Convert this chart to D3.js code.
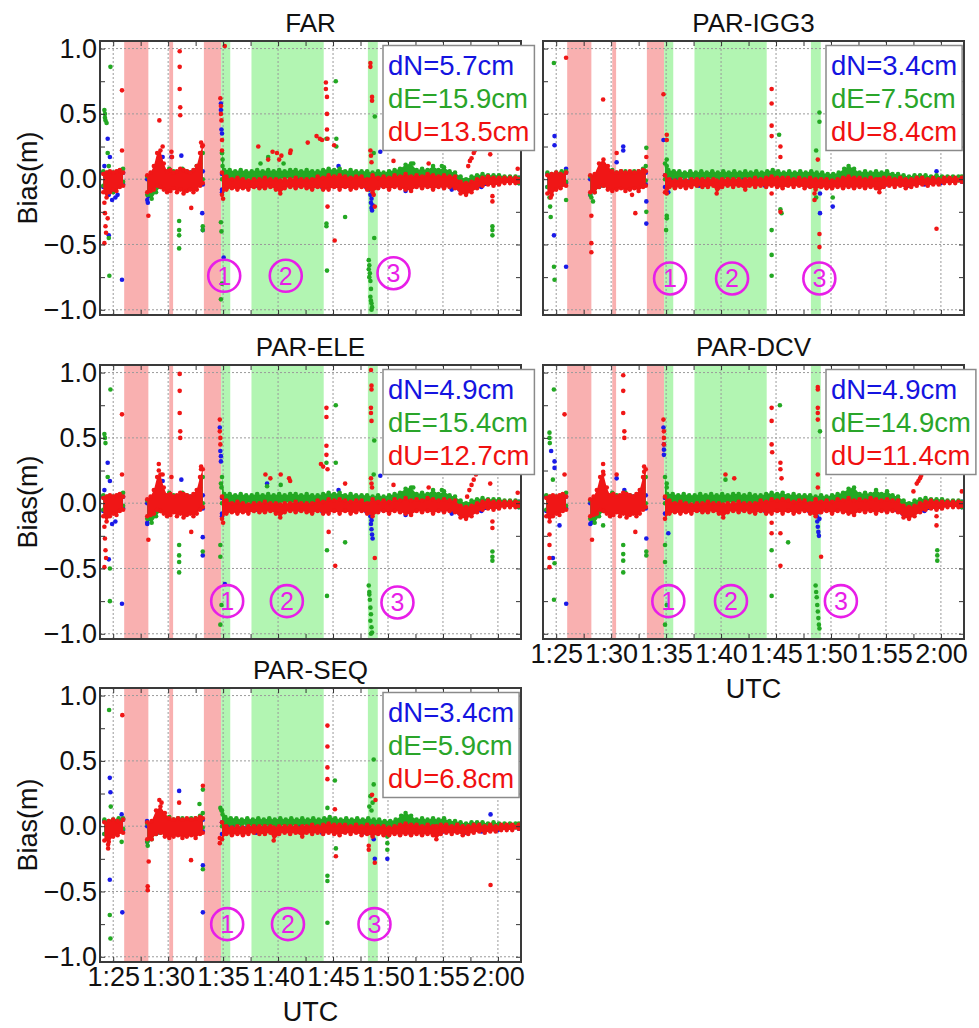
<!DOCTYPE html>
<html><head><meta charset="utf-8">
<script src="https://cdn.jsdelivr.net/npm/d3@7"></script>
<style>body{margin:0;background:#fff} text{font-family:"Liberation Sans",Arial,sans-serif}</style>
</head><body><svg id="c" width="979" height="1028"></svg>
<script>
// ---------------- DATA ----------------
// time in minutes after 1:00 UTC (25 = 1:25)
const panelNames = ["FAR","PAR-IGG3","PAR-ELE","PAR-DCV","PAR-SEQ"];
const rmsN = [5.7,3.4,4.9,4.9,3.4];
const rmsE = [15.9,7.5,15.4,14.9,5.9];
const rmsU = [13.5,8.4,12.7,11.4,6.8];
const xTickValues = [25,30,35,40,45,50,55,60];
const xTickLabels = ["1:25","1:30","1:35","1:40","1:45","1:50","1:55","2:00"];
const yTickValues = [-1,-0.5,0,0.5,1];
const yTickLabels = ["\u22121.0","\u22120.5","0.0","0.5","1.0"];
const redSpans = [[26.0,28.2],[30.1,30.45],[33.25,34.82]];
const greenSpans = [[34.82,35.65],[37.58,44.15],[48.17,49.07]];
const circleDigits = ["1","2","3"];
const circleT = [[35.1,40.7,50.5],[35.36,41.0,48.94],[35.37,40.8,50.86],[35.2,40.9,50.9],[35.37,40.9,48.77]];
const circleV = [[-0.74,-0.74,-0.72],[-0.76,-0.76,-0.76],[-0.75,-0.75,-0.76],[-0.75,-0.75,-0.75],[-0.75,-0.75,-0.75]];

// dense-band envelopes [t, low, high], segments (FAR / ELE / DCV)
const bandU_full = [
 [[24.1,-0.1,0.04],[24.4,-0.14,0.05],[24.7,-0.1,0.06],[25.0,-0.08,0.05],[25.3,-0.09,0.06],[25.6,-0.06,0.07],[25.9,-0.05,0.05]],
 [[28.1,-0.1,0.03],[28.4,-0.09,0.05],[28.7,-0.08,0.1],[29.0,-0.05,0.2],[29.3,-0.06,0.22],[29.6,-0.08,0.12],[29.9,-0.1,0.06],[30.2,-0.09,0.07],[30.5,-0.07,0.05],[30.8,-0.1,0.06],[31.1,-0.08,0.08],[31.4,-0.11,0.07],[31.7,-0.09,0.06],[32.0,-0.08,0.05],[32.3,-0.1,0.07],[32.6,-0.08,0.1],[32.9,-0.05,0.2],[33.15,-0.03,0.26]],
 [[34.9,-0.12,0.05],[35.3,-0.08,0.02],[35.8,-0.07,0.0],[36.3,-0.08,0.01],[36.8,-0.07,0.0],[37.3,-0.08,-0.01],[37.8,-0.06,0.0],[38.3,-0.07,0.0],[38.8,-0.07,0.01],[39.3,-0.06,0.0],[39.8,-0.08,0.0],[40.2,-0.11,-0.01],[40.6,-0.07,0.0],[41.1,-0.06,0.0],[41.6,-0.07,0.01],[42.1,-0.06,0.0],[42.6,-0.07,0.0],[43.1,-0.08,0.0],[43.6,-0.06,0.02],[44.1,-0.08,0.01],[44.6,-0.08,0.03],[45.1,-0.06,0.02],[45.6,-0.08,0.03],[46.1,-0.06,0.02],[46.6,-0.08,0.01],[47.1,-0.07,0.02],[47.6,-0.06,0.02],[48.1,-0.08,0.0],[48.6,-0.1,0.03],[49.1,-0.07,0.01],[49.6,-0.06,0.02],[50.1,-0.08,0.01],[50.6,-0.06,0.03],[51.1,-0.07,0.02],[51.6,-0.08,0.04],[52.1,-0.09,0.02],[52.6,-0.06,0.03],[53.1,-0.07,0.02],[53.6,-0.06,0.04],[54.1,-0.08,0.03],[54.6,-0.06,0.02],[55.1,-0.07,0.03],[55.6,-0.06,0.02],[56.1,-0.07,0.02],[56.6,-0.11,-0.02],[57.1,-0.12,-0.03],[57.6,-0.1,-0.02],[58.1,-0.07,0.0],[58.6,-0.05,0.01],[59.1,-0.04,0.02],[59.6,-0.05,0.01],[60.1,-0.04,0.01],[60.6,-0.03,0.01],[61.1,-0.03,0.01],[61.6,-0.03,0.01],[61.9,-0.02,0.0]]
];
const bandE_full = [
 [[24.1,-0.05,0.06],[24.5,-0.08,0.05],[25.0,-0.04,0.05],[25.5,-0.03,0.06],[25.9,-0.02,0.08]],
 [[28.1,-0.12,0.02],[28.5,-0.15,0.03],[28.9,-0.1,0.08],[29.3,-0.06,0.1],[29.7,-0.05,0.06],[30.1,-0.04,0.08],[30.5,-0.06,0.06],[30.9,-0.05,0.05],[31.3,-0.04,0.08],[31.7,-0.06,0.06],[32.1,-0.05,0.05],[32.5,-0.04,0.07],[32.9,-0.02,0.12],[33.15,0.0,0.2]],
 [[34.9,0.0,0.2],[35.1,-0.01,0.07],[35.6,0.0,0.07],[36.1,0.01,0.06],[36.6,0.0,0.07],[37.1,0.01,0.06],[37.6,0.0,0.06],[38.1,0.01,0.07],[38.6,0.0,0.06],[39.1,0.01,0.07],[39.6,0.0,0.06],[40.1,0.0,0.07],[40.6,0.01,0.06],[41.1,0.0,0.07],[41.6,0.01,0.07],[42.1,0.0,0.06],[42.6,0.0,0.07],[43.1,-0.04,0.06],[43.6,0.0,0.06],[44.1,-0.01,0.07],[44.6,0.0,0.08],[45.1,-0.01,0.07],[45.6,0.0,0.08],[46.1,-0.01,0.06],[46.6,0.0,0.07],[47.1,-0.01,0.06],[47.6,0.0,0.06],[48.1,-0.02,0.06],[48.6,-0.03,0.05],[49.1,0.0,0.06],[49.6,0.0,0.05],[50.1,-0.01,0.06],[50.6,0.0,0.07],[51.1,0.0,0.08],[51.6,0.01,0.11],[52.1,0.0,0.12],[52.6,-0.01,0.07],[53.1,0.0,0.08],[53.6,-0.01,0.07],[54.1,0.0,0.1],[54.6,-0.01,0.07],[55.1,0.0,0.09],[55.6,-0.01,0.06],[56.1,0.0,0.05],[56.6,-0.05,0.02],[57.1,-0.07,0.0],[57.6,-0.04,0.02],[58.1,-0.02,0.03],[58.6,-0.01,0.04],[59.1,-0.01,0.03],[59.6,-0.02,0.03],[60.1,-0.01,0.03],[60.6,-0.01,0.02],[61.1,-0.01,0.02],[61.6,-0.02,0.02],[61.9,-0.03,0.01]]
];
const bandN_full = [
 [[24.1,-0.06,0.05],[25.0,-0.05,0.04],[25.9,-0.04,0.05]],
 [[28.1,-0.16,0.0],[29.0,-0.06,0.06],[30.0,-0.05,0.05],[31.0,-0.06,0.04],[32.0,-0.05,0.05],[33.15,-0.04,0.06]],
 [[34.9,-0.08,0.04],[36.0,-0.05,0.0],[38.0,-0.05,0.0],[40.0,-0.06,-0.01],[42.0,-0.05,0.0],[44.0,-0.06,0.01],[46.0,-0.05,0.01],[48.0,-0.06,0.0],[49.5,-0.05,0.0],[52.0,-0.06,0.01],[55.0,-0.05,0.0],[56.5,-0.08,-0.03],[57.5,-0.09,-0.04],[58.5,-0.06,-0.02],[60.0,-0.03,0.0],[61.9,-0.03,0.01]]
];
// dense-band envelopes (IGG3 / SEQ)
const bandU_par = [
 [[24.2,-0.11,0.03],[24.6,-0.12,0.04],[25.0,-0.08,0.05],[25.4,-0.07,0.04],[25.9,-0.05,0.05]],
 [[28.1,-0.1,0.03],[28.5,-0.1,0.04],[28.9,-0.06,0.12],[29.3,-0.05,0.15],[29.7,-0.08,0.1],[30.1,-0.09,0.06],[30.5,-0.08,0.05],[30.9,-0.07,0.06],[31.3,-0.09,0.05],[31.7,-0.08,0.06],[32.1,-0.07,0.05],[32.5,-0.09,0.06],[32.9,-0.06,0.07],[33.15,-0.05,0.06]],
 [[34.9,-0.1,0.03],[35.3,-0.06,0.0],[35.8,-0.07,-0.01],[36.3,-0.06,0.0],[36.8,-0.07,-0.01],[37.3,-0.06,0.0],[37.8,-0.05,0.0],[38.3,-0.06,0.0],[38.8,-0.06,0.0],[39.3,-0.05,0.0],[39.6,-0.11,-0.01],[40.1,-0.06,0.0],[40.6,-0.05,0.0],[41.1,-0.06,0.0],[41.6,-0.05,0.0],[42.2,-0.08,0.0],[42.6,-0.05,0.0],[43.1,-0.06,0.01],[43.6,-0.05,0.0],[44.1,-0.06,0.01],[44.6,-0.05,0.02],[45.1,-0.06,0.01],[45.6,-0.07,0.01],[46.1,-0.05,0.01],[46.6,-0.06,0.0],[47.1,-0.05,0.01],[47.6,-0.07,0.0],[48.1,-0.06,0.01],[48.6,-0.08,0.0],[49.1,-0.06,0.0],[49.6,-0.07,0.0],[50.1,-0.07,-0.01],[50.6,-0.06,0.0],[51.1,-0.07,0.01],[51.6,-0.06,0.02],[52.1,-0.07,0.01],[52.6,-0.06,0.01],[53.1,-0.07,0.0],[53.6,-0.06,0.01],[54.1,-0.07,0.0],[54.4,-0.1,0.0],[54.8,-0.06,0.01],[55.3,-0.05,0.01],[55.8,-0.06,0.0],[56.3,-0.05,0.01],[56.8,-0.07,0.0],[57.3,-0.06,0.0],[57.8,-0.05,0.01],[58.3,-0.04,0.01],[58.8,-0.05,0.0],[59.3,-0.04,0.01],[59.8,-0.04,0.0],[60.3,-0.03,0.01],[60.8,-0.03,0.01],[61.3,-0.03,0.01],[61.9,-0.02,0.01]]
];
const bandE_par = [
 [[24.2,-0.06,0.05],[24.6,-0.08,0.04],[25.0,-0.04,0.05],[25.5,-0.03,0.06],[25.9,-0.02,0.06]],
 [[28.1,-0.12,0.02],[28.5,-0.1,0.03],[28.9,-0.06,0.06],[29.3,-0.05,0.06],[29.7,-0.04,0.05],[30.1,-0.05,0.07],[30.5,-0.03,0.05],[30.9,-0.04,0.06],[31.3,-0.03,0.06],[31.7,-0.04,0.05],[32.1,-0.03,0.06],[32.5,-0.04,0.06],[32.9,-0.02,0.08],[33.15,-0.01,0.1]],
 [[34.9,0.0,0.12],[35.2,0.01,0.07],[35.7,0.01,0.06],[36.2,0.0,0.06],[36.7,0.01,0.05],[37.2,0.01,0.06],[37.7,0.0,0.05],[38.2,0.01,0.06],[38.7,0.0,0.05],[39.2,0.01,0.06],[39.7,0.0,0.05],[40.2,0.01,0.06],[40.7,0.0,0.05],[41.2,0.01,0.06],[41.7,0.0,0.05],[42.2,0.01,0.06],[42.7,0.0,0.05],[43.2,0.01,0.06],[43.7,0.0,0.05],[44.2,0.0,0.06],[44.7,0.0,0.07],[45.2,0.0,0.06],[45.7,0.0,0.05],[46.2,0.0,0.06],[46.7,-0.01,0.05],[47.2,0.0,0.06],[47.7,-0.01,0.05],[48.2,-0.01,0.06],[48.7,-0.02,0.05],[49.2,-0.01,0.05],[49.7,-0.02,0.04],[50.2,-0.02,0.04],[50.7,-0.01,0.05],[51.2,0.0,0.08],[51.6,0.01,0.1],[52.1,0.0,0.08],[52.6,-0.01,0.05],[53.1,-0.01,0.06],[53.6,-0.01,0.05],[54.1,-0.01,0.06],[54.6,-0.01,0.05],[55.1,-0.01,0.06],[55.6,-0.01,0.04],[56.1,-0.02,0.04],[56.6,-0.02,0.03],[57.1,-0.03,0.02],[57.6,-0.02,0.03],[58.1,-0.01,0.03],[58.6,-0.01,0.03],[59.1,-0.01,0.02],[59.6,-0.01,0.03],[60.1,-0.01,0.02],[60.6,-0.01,0.02],[61.1,0.0,0.02],[61.6,-0.01,0.02],[61.9,-0.01,0.02]]
];
const bandN_par = [
 [[24.2,-0.06,0.04],[25.0,-0.05,0.04],[25.9,-0.03,0.05]],
 [[28.1,-0.12,0.0],[29.0,-0.05,0.05],[30.0,-0.05,0.04],[31.0,-0.05,0.04],[32.0,-0.04,0.04],[33.15,-0.04,0.05]],
 [[34.9,-0.06,0.03],[36.0,-0.04,0.0],[38.0,-0.05,0.0],[40.0,-0.05,0.0],[42.0,-0.04,0.0],[44.0,-0.05,0.01],[46.0,-0.04,0.01],[48.0,-0.05,0.0],[50.0,-0.04,0.0],[52.0,-0.05,0.01],[55.0,-0.04,0.0],[57.0,-0.05,-0.01],[58.5,-0.04,0.0],[60.0,-0.03,0.0],[61.9,-0.02,0.01]]
];

// scattered points [t, bias]
const farN = [[24.2,0.1],[24.5,0.31],[24.7,0.17],[24.6,-0.12],[24.9,-0.16],[25.2,-0.14],[25.4,-0.12],[24.6,-0.43],[25.8,-0.77],[28.2,-0.13],[28.15,-0.18],[29.5,0.17],[30.3,0.17],[31.2,0.18],[33.1,-0.26],[33.15,-0.39],[34.8,0.58],[34.8,0.53],[34.85,0.38],[34.9,0.35],[35.05,-0.6],[34.9,-0.1],[45.5,0.1],[48.3,-0.08],[48.4,-0.12],[48.45,-0.18],[48.5,-0.22],[48.55,-0.24],[48.6,-0.2],[48.5,-0.15],[48.4,-0.05],[49.3,0.21],[51.6,-0.09],[55.8,-0.08]];
const farE = [[24.2,0.53],[24.25,0.5],[24.25,0.47],[24.3,0.45],[24.4,0.43],[24.75,0.86],[24.6,-0.45],[24.65,-0.74],[24.5,0.2],[24.6,0.1],[25.0,-0.1],[25.7,0.07],[28.2,-0.1],[29.2,0.15],[31.0,-0.32],[31.0,-0.39],[31.0,-0.43],[31.0,-0.53],[32.6,0.1],[33.0,0.2],[33.15,-0.36],[33.15,-0.39],[34.9,0.2],[34.95,0.15],[34.95,0.1],[34.8,-0.33],[34.85,-0.4],[34.9,-0.8],[34.8,-0.92],[38.4,0.12],[39.1,0.17],[40.5,0.12],[44.4,0.31],[44.4,-0.34],[44.4,-0.36],[44.45,-0.7],[45.25,0.75],[45.3,0.31],[45.3,0.25],[46.1,-0.29],[48.25,-0.62],[48.3,-0.66],[48.35,-0.72],[48.4,-0.78],[48.45,-0.84],[48.4,-0.9],[48.5,-0.95],[48.55,-0.98],[48.5,-1.0],[48.45,-0.93],[48.3,-0.75],[48.25,-0.69],[48.8,0.48],[48.7,0.2],[48.75,-0.45],[52.3,0.12],[54.9,0.1],[59.5,-0.36],[59.5,-0.39],[59.5,-0.43]];
const farU = [[24.2,-0.18],[24.25,-0.26],[24.3,-0.36],[24.35,-0.41],[24.2,-0.49],[24.5,-0.3],[25.8,0.68],[25.8,0.22],[28.2,-0.28],[29.2,0.45],[29.5,0.25],[30.3,0.21],[30.35,0.17],[31.05,0.98],[31.05,0.86],[31.05,0.69],[31.1,0.55],[31.1,0.49],[32.1,-0.22],[33.0,0.28],[33.1,0.25],[34.75,0.62],[34.8,0.56],[34.8,0.5],[34.85,0.45],[34.9,0.3],[34.9,0.22],[35.15,1.02],[35.0,-0.15],[38.2,0.25],[39.1,0.15],[39.5,0.21],[39.9,0.2],[40.1,0.15],[40.3,0.18],[41.1,0.2],[41.15,0.22],[42.7,0.28],[43.5,0.33],[43.8,0.31],[44.0,0.3],[44.35,0.74],[44.35,0.69],[44.45,0.63],[44.45,0.5],[44.45,0.38],[44.5,0.31],[44.5,-0.21],[45.1,0.26],[45.15,-0.47],[48.4,0.89],[48.4,0.86],[48.55,0.63],[48.55,0.6],[48.4,0.22],[48.45,0.18],[48.5,0.13],[48.8,-0.21],[48.7,-0.12],[50.5,0.14],[53.7,0.12],[57.3,0.1],[57.45,0.14],[57.6,0.16],[57.8,0.2],[57.9,0.22],[58.1,0.25],[59.3,0.19],[59.5,-0.13],[59.5,-0.17],[61.8,0.08]];

const iggN = [[24.85,0.33],[24.85,0.26],[24.8,-0.43],[25.9,-0.67],[25.9,0.08],[30.5,0.13],[31.1,0.25],[31.1,0.22],[33.2,-0.17],[33.2,-0.34],[34.76,0.3],[35.2,-0.1],[49.0,-0.26],[49.0,-0.11],[50.16,-0.21],[59.6,0.06]];
const iggE = [[24.79,0.89],[24.39,-0.14],[24.45,-0.21],[24.5,-0.29],[24.8,-0.67],[24.85,-0.77],[25.9,-0.16],[28.2,-0.14],[28.35,-0.17],[33.2,0.24],[33.2,-0.25],[35.06,0.15],[35.06,0.1],[35.06,-0.28],[35.06,-0.3],[35.0,-0.39],[44.6,-0.39],[44.6,-0.58],[44.6,-0.74],[45.28,0.34],[45.4,-0.23],[45.5,-0.26],[48.95,0.51],[48.95,0.44],[48.65,0.22],[48.65,-0.14],[50.16,-0.14]];
const iggU = [[25.9,0.93],[24.45,-0.1],[24.5,-0.14],[28.2,-0.28],[28.2,-0.49],[28.2,-0.56],[29.27,0.61],[30.5,0.2],[31.9,-0.12],[32.2,-0.26],[33.2,0.17],[34.76,0.65],[35.06,0.34],[35.06,0.3],[35.06,-0.08],[35.06,-0.11],[44.6,0.69],[44.6,0.58],[44.6,0.41],[44.6,0.33],[44.6,-0.11],[45.4,0.25],[45.4,0.17],[45.4,-0.25],[48.8,0.15],[48.5,-0.11],[48.5,-0.16],[48.95,-0.42],[48.95,-0.52],[59.6,-0.38]];

const eleN = [[24.2,0.1],[24.5,0.31],[24.7,0.17],[24.9,-0.16],[25.2,-0.14],[24.6,-0.43],[25.8,-0.77],[28.1,-0.15],[29.5,0.17],[31.2,0.18],[33.15,-0.26],[33.15,-0.4],[34.7,0.58],[34.75,0.4],[34.8,0.36],[34.8,0.32],[35.16,-0.62],[34.9,-0.1],[39.0,0.15],[45.5,0.1],[48.35,-0.03],[48.4,-0.1],[48.45,-0.16],[48.5,-0.2],[48.55,-0.24],[48.6,-0.27],[48.5,-0.13],[49.3,0.21],[51.6,-0.09],[55.8,-0.08]];
const eleE = [[24.2,0.53],[24.25,0.5],[24.3,0.46],[24.75,0.87],[24.7,-0.5],[24.7,-0.75],[24.5,0.2],[25.7,0.07],[28.2,-0.1],[31.0,-0.32],[31.0,-0.4],[31.0,-0.45],[31.0,-0.53],[33.0,0.19],[33.15,-0.37],[34.8,0.15],[34.85,0.12],[34.75,-0.32],[34.75,-0.41],[34.85,-0.78],[34.75,-0.93],[40.24,0.14],[39.0,0.13],[44.4,0.31],[44.45,-0.36],[44.45,-0.71],[45.25,0.75],[45.25,0.31],[46.1,-0.3],[48.25,-0.63],[48.3,-0.68],[48.35,-0.74],[48.4,-0.8],[48.45,-0.85],[48.4,-0.9],[48.5,-0.95],[48.55,-0.99],[48.45,-1.0],[48.3,-0.7],[48.75,0.48],[48.7,0.22],[52.3,0.12],[54.9,0.1],[59.5,-0.37],[59.5,-0.41],[59.5,-0.44]];
const eleU = [[24.2,-0.18],[24.25,-0.27],[24.3,-0.36],[24.35,-0.42],[24.2,-0.49],[25.8,0.68],[25.8,0.22],[28.2,-0.28],[29.15,0.3],[29.15,0.25],[29.5,0.22],[30.3,0.2],[31.05,0.99],[31.05,0.86],[31.05,0.69],[31.1,0.55],[31.1,0.5],[32.1,-0.22],[33.0,0.28],[33.0,0.26],[34.7,0.64],[34.7,0.55],[34.75,0.5],[34.75,0.45],[35.0,-0.15],[38.85,0.22],[39.3,0.19],[40.24,0.22],[41.0,0.19],[41.1,0.17],[43.9,0.3],[44.1,0.28],[44.4,0.73],[44.4,0.66],[44.4,0.44],[44.4,0.37],[44.5,0.26],[44.6,-0.22],[45.2,-0.48],[46.1,0.15],[48.45,1.02],[48.5,0.9],[48.5,0.87],[48.45,0.73],[48.45,0.69],[48.5,0.63],[48.45,0.19],[48.5,0.15],[48.55,0.12],[48.8,-0.42],[50.5,0.14],[53.7,0.12],[57.2,0.05],[57.4,0.1],[57.6,0.14],[57.8,0.18],[58.0,0.22],[59.3,0.15],[59.5,-0.14],[59.5,-0.19],[61.8,0.08]];

const dcvN = [[24.54,0.4],[24.85,0.32],[24.85,0.27],[24.7,-0.42],[25.3,-0.17],[25.91,-0.77],[28.2,-0.15],[30.5,0.19],[31.2,0.1],[33.2,-0.27],[34.76,0.58],[34.8,0.45],[34.8,0.41],[34.8,0.37],[35.2,-0.23],[48.6,-0.05],[48.7,-0.1],[48.75,-0.14],[48.8,-0.18],[48.85,-0.22],[48.9,-0.25],[48.95,-0.12],[49.0,-0.07]];
const dcvE = [[24.79,0.87],[24.39,0.54],[24.39,0.5],[24.42,0.46],[24.7,0.18],[24.85,-0.46],[24.8,-0.74],[29.27,-0.17],[31.1,-0.32],[31.1,-0.39],[31.1,-0.44],[31.1,-0.53],[33.0,0.19],[33.2,-0.37],[33.2,-0.4],[35.06,0.15],[35.06,0.12],[34.9,-0.32],[34.9,-0.45],[35.06,-0.78],[34.9,-0.93],[40.4,0.18],[44.6,-0.36],[44.6,-0.71],[45.35,0.75],[46.1,-0.3],[49.0,0.55],[48.6,-0.63],[48.65,-0.68],[48.7,-0.72],[48.75,-0.78],[48.8,-0.83],[48.85,-0.88],[48.9,-0.93],[48.95,-0.96],[59.67,-0.36],[59.67,-0.4],[59.67,-0.44]];
const dcvU = [[25.76,0.68],[25.76,0.22],[24.39,-0.24],[24.39,-0.32],[24.39,-0.42],[24.39,-0.49],[28.26,-0.28],[29.27,0.3],[29.27,0.24],[30.5,0.22],[31.1,0.98],[31.1,0.86],[31.1,0.69],[31.2,0.55],[31.2,0.5],[32.2,-0.22],[33.0,0.28],[33.0,0.24],[34.76,0.64],[34.8,0.55],[34.8,0.5],[34.8,0.45],[40.4,0.22],[41.2,0.19],[44.6,0.73],[44.6,0.63],[44.6,0.45],[44.65,0.39],[44.6,-0.15],[44.6,-0.23],[45.4,0.31],[45.4,0.26],[45.5,0.19],[45.4,-0.23],[45.4,-0.48],[48.8,0.89],[48.8,0.87],[48.8,0.73],[48.8,0.69],[48.8,0.64],[48.8,0.22],[48.8,0.12],[49.1,-0.41],[57.5,0.09],[57.8,0.15],[57.95,0.17],[58.1,0.19],[58.2,0.21],[59.6,-0.04],[59.6,-0.1],[59.6,-0.17],[61.9,0.09]];

const seqN = [[24.69,0.37],[24.75,0.26],[24.69,-0.41],[25.83,-0.66],[25.77,0.09],[28.08,0.04],[31.0,0.27],[33.16,-0.3],[33.16,-0.66],[48.7,-0.1],[48.8,-0.25],[49.94,-0.25],[59.33,0.09]];
const seqE = [[24.63,0.89],[24.78,0.15],[24.69,-0.68],[24.75,-0.86],[25.77,-0.12],[28.14,-0.11],[28.14,-0.15],[32.85,0.17],[33.16,0.28],[33.16,-0.33],[34.75,0.14],[34.85,0.12],[34.95,0.09],[44.49,0.14],[45.17,0.35],[45.26,-0.17],[44.49,-0.38],[44.49,-0.42],[44.49,-0.74],[48.7,0.51],[48.7,0.32],[48.4,0.23],[48.3,0.15],[48.5,0.12],[48.6,0.18],[49.94,-0.08],[49.94,-0.13],[49.94,-0.18]];
const seqU = [[25.83,0.85],[24.54,-0.1],[24.54,-0.14],[24.54,-0.17],[28.23,-0.27],[28.14,-0.46],[28.14,-0.49],[29.2,0.2],[29.4,0.18],[31.0,0.18],[32.08,-0.26],[33.16,0.31],[34.7,-0.09],[34.7,-0.13],[44.49,0.77],[44.49,0.61],[44.49,0.45],[44.49,0.36],[45.17,0.13],[45.26,-0.23],[48.55,0.24],[48.86,0.2],[48.25,-0.15],[48.25,-0.18],[48.8,-0.28],[59.33,-0.45]];

// ---------------- DRAW ----------------
const panels = [
  {bands:{N:bandN_full,E:bandE_full,U:bandU_full}, pts:{N:farN,E:farE,U:farU}},
  {bands:{N:bandN_par,E:bandE_par,U:bandU_par}, pts:{N:iggN,E:iggE,U:iggU}},
  {bands:{N:bandN_full,E:bandE_full,U:bandU_full}, pts:{N:eleN,E:eleE,U:eleU}},
  {bands:{N:bandN_full,E:bandE_full,U:bandU_full}, pts:{N:dcvN,E:dcvE,U:dcvU}},
  {bands:{N:bandN_par,E:bandE_par,U:bandU_par}, pts:{N:seqN,E:seqE,U:seqU}}
];
const colLeft=[100,543], rowTop=[41,365,688], W=421, H=274;
const layout=[[0,0],[1,0],[0,1],[1,1],[0,2]];
const col={N:"#1a1ae8",E:"#23a823",U:"#f01616"};
const legCol={N:"#1414e0",E:"#2aa52a",U:"#f01010"};
const svg=d3.select("#c");
const FS=27;

panels.forEach((p,i)=>{
  const [c,r]=layout[i];
  const x0=colLeft[c], y0=rowTop[r];
  const x=d3.scaleLinear().domain([23.8,62.1]).range([x0,x0+W]);
  const y=d3.scaleLinear().domain([-1.04,1.058]).range([y0+H,y0]);
  const g=svg.append("g");
  const cid="clip"+i;
  svg.append("clipPath").attr("id",cid).append("rect").attr("x",x0).attr("y",y0).attr("width",W).attr("height",H);
  const pg=g.append("g").attr("clip-path",`url(#${cid})`);
  redSpans.forEach(s=>pg.append("rect").attr("x",x(s[0])).attr("y",y0).attr("width",x(s[1])-x(s[0])).attr("height",H).attr("fill","#f9b0b0"));
  greenSpans.forEach(s=>pg.append("rect").attr("x",x(s[0])).attr("y",y0).attr("width",x(s[1])-x(s[0])).attr("height",H).attr("fill","#b2f5b2"));
  // grid
  xTickValues.forEach(v=>pg.append("line").attr("x1",x(v)).attr("x2",x(v)).attr("y1",y0).attr("y2",y0+H).attr("stroke","#9a9a9a").attr("stroke-dasharray","2,2"));
  yTickValues.forEach(v=>pg.append("line").attr("y1",y(v)).attr("y2",y(v)).attr("x1",x0).attr("x2",x0+W).attr("stroke","#9a9a9a").attr("stroke-dasharray","2,2"));
  // data
  const area=d3.area().x(d=>x(d[0])).y0(d=>y(d[1])).y1(d=>y(d[2]));
  ["N","E","U"].forEach(k=>{
    p.bands[k].forEach(seg=>{
      pg.append("path").datum(seg).attr("d",area).attr("fill",col[k]);
      pg.selectAll(null).data(seg).enter().append("circle").attr("cx",d=>x(d[0])).attr("cy",d=>y(d[1])).attr("r",2.3).attr("fill",col[k]);
      pg.selectAll(null).data(seg).enter().append("circle").attr("cx",d=>x(d[0])).attr("cy",d=>y(d[2])).attr("r",2.3).attr("fill",col[k]);
    });
    pg.selectAll(null).data(p.pts[k]).enter().append("circle").attr("cx",d=>x(d[0])).attr("cy",d=>y(d[1])).attr("r",2.3).attr("fill",col[k]);
  });
  // axes (inward ticks)
  const xt=d3.range(25,61,2.5), yt=d3.range(-1,1.01,0.25);
  const showX=(i===3||i===4), showY=(c===0);
  const fmtX=v=>{const j=xTickValues.indexOf(v);return (showX&&j>=0)?xTickLabels[j]:"";};
  const fmtY=v=>{const j=yTickValues.findIndex(t=>Math.abs(t-v)<1e-6);return (showY&&j>=0)?yTickLabels[j]:"";};
  const ax=[
    g.append("g").attr("transform",`translate(0,${y0+H})`).call(d3.axisBottom(x).tickValues(xt).tickSize(-5).tickPadding(5).tickFormat(fmtX)),
    g.append("g").attr("transform",`translate(0,${y0})`).call(d3.axisTop(x).tickValues(xt).tickSize(-5).tickFormat("")),
    g.append("g").attr("transform",`translate(${x0},0)`).call(d3.axisLeft(y).tickValues(yt).tickSize(-5).tickPadding(3).tickFormat(fmtY)),
    g.append("g").attr("transform",`translate(${x0+W},0)`).call(d3.axisRight(y).tickValues(yt).tickSize(-5).tickFormat(""))
  ];
  ax.forEach(a=>{a.select(".domain").remove();a.selectAll("line").attr("stroke","#333");a.selectAll("text").attr("font-size",FS).attr("fill","#111").attr("font-family","Liberation Sans, Arial, sans-serif");});
  // frame
  g.append("rect").attr("x",x0).attr("y",y0).attr("width",W).attr("height",H).attr("fill","none").attr("stroke","#3a3a3a").attr("stroke-width",2);
  // circled labels
  circleDigits.forEach((d,j)=>{
    const cx=x(circleT[i][j]), cy=y(circleV[i][j]);
    g.append("circle").attr("cx",cx).attr("cy",cy).attr("r",16).attr("fill","none").attr("stroke","#e81ee8").attr("stroke-width",2.6);
    g.append("text").attr("x",cx).attr("y",cy+9).attr("text-anchor","middle").attr("font-size",25).attr("fill","#e81ee8").text(d);
  });
  // legend
  const lg=g.append("g");
  const bx=x0+283, by=y0+4.5;
  const box=lg.append("rect").attr("x",bx).attr("y",by).attr("height",105).attr("fill","#fff").attr("stroke","#8a8a8a").attr("stroke-width",1.5);
  const rows=[["dN",rmsN[i],"N"],["dE",rmsE[i],"E"],["dU",rmsU[i],"U"]];
  let mw=0;
  rows.forEach((rw,j)=>{
    const t=lg.append("text").attr("x",bx+5).attr("y",by+29+j*33).attr("font-size",27.5).attr("fill",legCol[rw[2]]).text(`${rw[0]}=${rw[1].toFixed(1)}cm`);
    mw=Math.max(mw,t.node().getComputedTextLength());
  });
  box.attr("width",mw+10);
  // title
  g.append("text").attr("x",x0+W/2).attr("y",y0-9).attr("text-anchor","middle").attr("font-size",26).attr("fill","#111").text(panelNames[i]);
  if(showY) g.append("text").attr("transform",`translate(28,${y0+H/2}) rotate(-90)`).attr("text-anchor","middle").attr("dy","0.35em").attr("font-size",27).attr("fill","#111").text("Bias(m)");
  if(showX) g.append("text").attr("x",x0+W/2).attr("y",y0+H+59).attr("text-anchor","middle").attr("font-size",FS).attr("fill","#111").text("UTC");
});
</script></body></html>
